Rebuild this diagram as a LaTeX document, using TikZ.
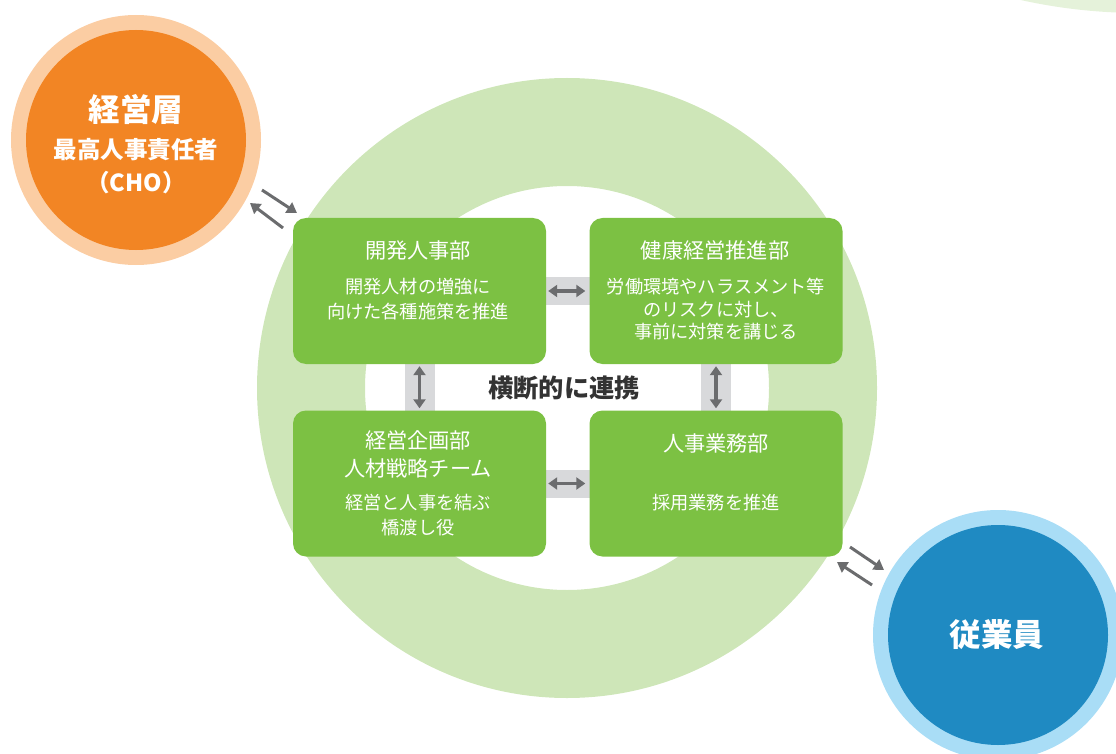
\documentclass[tikz,border=0pt]{standalone}
\usepackage{fontspec}
\setmainfont{Noto Sans CJK JP}
\usetikzlibrary{arrows.meta}
\definecolor{orgD}{HTML}{F28524}
\definecolor{orgL}{HTML}{FBCDA3}
\definecolor{bluD}{HTML}{1F8AC2}
\definecolor{bluL}{HTML}{A9DDF6}
\definecolor{boxG}{HTML}{7CC143}
\definecolor{ringG}{HTML}{CEE6B8}
\definecolor{paleG}{HTML}{E5F2DA}
\definecolor{bandG}{HTML}{D8D9DB}
\definecolor{arrG}{HTML}{6B6C6E}
\definecolor{txtD}{HTML}{333333}
\tikzset{
  deptbox/.style={fill=boxG, rounded corners=13pt, minimum width=253pt, minimum height=146pt, inner sep=0pt},
  band/.style={line width=28pt, bandG},
  vband/.style={line width=30pt, bandG},
  dbl/.style={arrG, line width=3.2pt, {Triangle[length=9pt,width=12pt]}-{Triangle[length=9pt,width=12pt]}},
  sgl/.style={arrG, line width=3pt, -{Triangle[length=10pt,width=12pt]}},
  ttl/.style={white, inner sep=0pt, align=center, font=\fontsize{21.2}{28}\selectfont},
  bdy/.style={white, inner sep=0pt, align=center},
}
\begin{document}
\begin{tikzpicture}[x=1pt,y=-1pt]
\useasboundingbox (0,0) rectangle (1116,754);
\clip (0,0) rectangle (1116,754);
% pale green circle at top right
\fill[paleG] (1140,-537) circle (550pt);
% big ring
\fill[ringG, even odd rule] (567,388) circle (310pt) (567,388) circle (202pt);
% orange circle
\fill[orgL] (136,140) circle (125pt);
\node[circle, fill=orgD, minimum size=220pt, inner sep=0pt] (mgmt) at (136,140) {};
% blue circle
\fill[bluL] (998,635) circle (125pt);
\node[circle, fill=bluD, minimum size=220pt, inner sep=0pt] (emp) at (998,635) {};
% box centres
\coordinate (c1) at (419.5,291);
\coordinate (c2) at (716,291);
\coordinate (c3) at (419.5,483.5);
\coordinate (c4) at (716,483.5);
% gray bands
\draw[band] (c1) -- (c2);
\draw[band] (c3) -- (c4);
\draw[vband] (c1) -- (c3);
\draw[vband] (c2) -- (c4);
% boxes
\node[deptbox] (b1) at (c1) {};
\node[deptbox] (b2) at (c2) {};
\node[deptbox] (b3) at (c3) {};
\node[deptbox] (b4) at (c4) {};
% double arrows
\draw[dbl, shorten <=2pt, shorten >=4pt] (b1.east) -- (b2.west);
\draw[dbl, shorten <=2pt, shorten >=4pt] (b3.east) -- (b4.west);
\draw[dbl, shorten <=2pt, shorten >=2pt] (b1.south) -- (b3.north);
\draw[dbl, shorten <=2pt, shorten >=2pt] (b2.south) -- (b4.north);
% diagonal arrows
\coordinate (a1s) at (262,190);
\coordinate (a1e) at (297,213);
\coordinate (a2s) at (283,228);
\coordinate (a2e) at (250,203);
\draw[sgl] (a1s) -- (a1e);
\draw[sgl] (a2s) -- (a2e);
\coordinate (a3s) at (850,547);
\coordinate (a3e) at (884,570);
\coordinate (a4s) at (872,585);
\coordinate (a4e) at (837,562);
\draw[sgl] (a3s) -- (a3e);
\draw[sgl] (a4s) -- (a4e);
% circle texts
\node[white, inner sep=0pt, font=\bfseries\fontsize{31.5}{31.5}\selectfont] (t1) at (136,110) {経営層};
\node[white, inner sep=0pt, font=\bfseries\fontsize{23.5}{23.5}\selectfont] (t2) at (136,150) {最高人事責任者};
\node[white, inner sep=0pt, font=\bfseries\fontsize{23.5}{23.5}\selectfont] (t3) at (136,183) {（CHO）};
\node[white, inner sep=0pt, font=\bfseries\fontsize{31.5}{31.5}\selectfont] (t4) at (997,635) {従業員};
% centre text
\node[txtD, inner sep=0pt, font=\bfseries\fontsize{25.3}{25.3}\selectfont] (mid) at (564,388) {横断的に連携};
% box texts
\node[ttl] (h1) at (418,250) {開発人事部};
\node[bdy, font=\fontsize{18.2}{25}\selectfont] (d1) at (418,299.5) {開発人材の増強に\\向けた各種施策を推進};
\node[ttl] (h2) at (715,250) {健康経営推進部};
\node[bdy, font=\fontsize{18.2}{22.5}\selectfont] (d2) at (716,309.5) {労働環境やハラスメント等\\のリスクに対し、\\事前に対策を講じる};
\node[ttl] (h3) at (418,454) {経営企画部\\人材戦略チーム};
\node[bdy, font=\fontsize{18.2}{25}\selectfont] (d3) at (418,515.5) {経営と人事を結ぶ\\橋渡し役};
\node[ttl] (h4) at (716,443) {人事業務部};
\node[bdy, font=\fontsize{18.2}{25}\selectfont] (d4) at (716,503) {採用業務を推進};
\end{tikzpicture}
\end{document}
